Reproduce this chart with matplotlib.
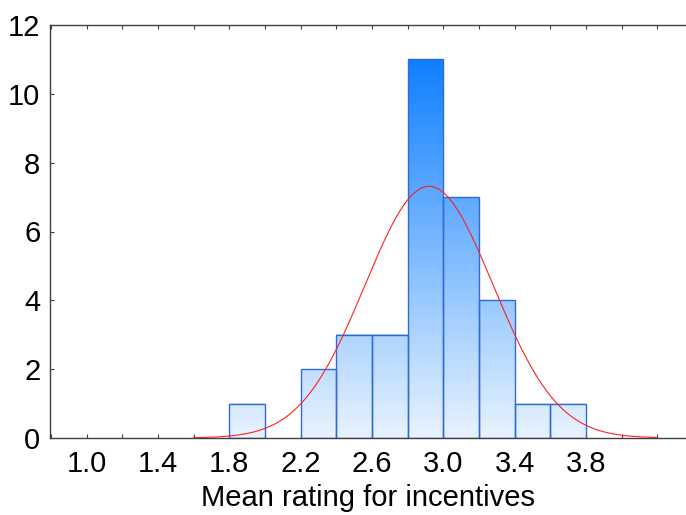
import numpy as np
import matplotlib
matplotlib.use("Agg")
import matplotlib.pyplot as plt
from matplotlib.colors import LinearSegmentedColormap

# histogram of mean ratings (bin width 0.2)
bin_edges = [1.8, 2.0, 2.2, 2.4, 2.6, 2.8, 3.0, 3.2, 3.4, 3.6, 3.8]
counts = [1, 0, 2, 3, 3, 11, 7, 4, 1, 1]

# fitted normal curve parameters
fit_mean = 2.92
fit_sd = 0.36
fit_range = (1.6, 4.2)

xticks = [1.0, 1.4, 1.8, 2.2, 2.6, 3.0, 3.4, 3.8]
yticks = [0, 2, 4, 6, 8, 10, 12]

plt.rcParams['font.family'] = ['Liberation Sans', 'DejaVu Sans']

fig = plt.figure(figsize=(6.86, 5.15), dpi=100)
ax = fig.add_axes([50 / 686, 1 - 438 / 515, 1 - 50 / 686, 413 / 515])

cmap = LinearSegmentedColormap.from_list("blues", ["#E8F3FE", "#1080FF"])
vmax = max(counts)
for left, right, c in zip(bin_edges[:-1], bin_edges[1:], counts):
    if c == 0:
        continue
    grad = np.linspace(0, c, 100).reshape(-1, 1)
    ax.imshow(grad, extent=(left, right, 0, c), origin="lower", aspect="auto",
              cmap=cmap, vmin=0, vmax=vmax, zorder=1, interpolation="bilinear")
    ax.bar(left, c, width=right - left, align="edge", facecolor="none",
           edgecolor="#2F6AD8", linewidth=1.0, zorder=2)

n = sum(counts)
bw = bin_edges[1] - bin_edges[0]
xs = np.linspace(fit_range[0], fit_range[1], 400)
ys = n * bw * np.exp(-0.5 * ((xs - fit_mean) / fit_sd) ** 2) / (fit_sd * np.sqrt(2 * np.pi))
ax.plot(xs, ys, color="#FF2020", linewidth=0.8, zorder=3)

ax.set_xlim(0.794, 4.361)
ax.set_ylim(0, 12)
ax.set_xticks(np.arange(0.8, 4.35, 0.2), minor=True)
ax.set_xticks(xticks)
ax.set_xticklabels([f"{t:.1f}" for t in xticks])
ax.set_yticks(yticks)
ax.tick_params(axis="both", direction="in", length=3, width=0.8, color="#404040",
               labelsize=21, top=True, which="both")
ax.tick_params(axis="x", pad=9)
ax.tick_params(axis="y", pad=7)
ax.spines["right"].set_visible(False)
for s in ["left", "top", "bottom"]:
    ax.spines[s].set_color("#404040")
    ax.spines[s].set_linewidth(1.0)

ax.set_xlabel("Mean rating for incentives", fontsize=21, labelpad=4)

fig.savefig("out.png", dpi=100)
